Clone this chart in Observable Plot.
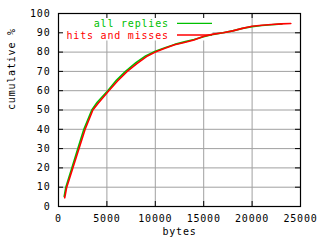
<!DOCTYPE html>
<html>
<head>
<meta charset="utf-8">
<script src="https://cdn.jsdelivr.net/npm/d3@7"></script>
<script src="https://cdn.jsdelivr.net/npm/@observablehq/plot@0.6"></script>
<style>
  html, body { margin: 0; padding: 0; background: white; }
  svg text { letter-spacing: 0.8px; }
</style>
</head>
<body>
<div id="chart"></div>
<script>
// Series: all replies (green)
const allBytes = [590, 760, 1380, 2000, 2620, 3440, 4000, 5090, 6000, 6920, 8000, 9000, 10000, 11000, 12000, 13000, 14000, 15000, 16000, 17000, 18000, 19000, 20000, 21000, 22000, 23100];
const allPct   = [5.2, 10, 20, 30, 40, 50, 54, 60, 65.5, 70, 74.5, 78, 80.5, 82.2, 84, 85.3, 86.5, 88, 89.2, 90, 91, 92.3, 93.2, 93.8, 94.2, 94.6];
// Series: hits and misses (red)
const hmBytes = [640, 850, 1480, 2120, 2750, 3550, 4100, 5200, 6100, 7100, 8100, 9200, 10000, 11000, 12000, 13000, 14000, 15000, 16000, 17000, 18000, 19000, 20000, 21000, 22000, 23000, 24000];
const hmPct   = [4.5, 10, 20, 30, 40, 50, 53.5, 60, 65, 70, 74, 78, 80, 82, 83.8, 85, 86.3, 88.2, 89.3, 90, 91, 92.3, 93.4, 93.9, 94.3, 94.6, 94.8];

const seriesNames = ["all replies", "hits and misses"];
const seriesColors = ["#00c000", "#ff0000"];

const xTicks = [0, 5000, 10000, 15000, 20000, 25000];
const yTicks = [0, 10, 20, 30, 40, 50, 60, 70, 80, 90, 100];
const xGrid = [5000, 10000, 15000, 20000];
const yGrid = [10, 20, 30, 40, 50, 60, 70, 80, 90];

const allData = allBytes.map((b, i) => ({bytes: b, pct: allPct[i]}));
const hmData = hmBytes.map((b, i) => ({bytes: b, pct: hmPct[i]}));

const font = "'DejaVu Sans Mono', 'Liberation Mono', monospace";
const fs = 10;

// key drawn as a custom mark (white box hides grid like gnuplot)
function keyMark(index, scales, values, dim) {
  const g = d3.create("svg:g").attr("font-family", font).attr("font-size", fs);
  const x0 = dim.marginLeft;
  const y0 = dim.marginTop;
  g.append("rect").attr("x", x0 + 1.5).attr("y", y0 + 1).attr("width", 153).attr("height", 26.5).attr("fill", "white");
  const rows = [10.3, 22];
  seriesNames.forEach((name, i) => {
    g.append("text")
      .attr("x", x0 + 110.8).attr("y", y0 + rows[i]).attr("dy", "0.35em")
      .attr("text-anchor", "end").attr("fill", seriesColors[i]).text(name);
    g.append("line")
      .attr("x1", x0 + 119).attr("x2", x0 + 154)
      .attr("y1", y0 + rows[i]).attr("y2", y0 + rows[i])
      .attr("stroke", seriesColors[i]).attr("stroke-width", 1.3);
  });
  return g.node();
}

const chart = Plot.plot({
  width: 320,
  height: 240,
  marginLeft: 58,
  marginRight: 20,
  marginTop: 13,
  marginBottom: 34,
  style: {fontFamily: font, fontSize: fs + "px", background: "white", color: "black", overflow: "visible"},
  x: {domain: [0, 25000], label: null},
  y: {domain: [0, 100], label: null},
  marks: [
    Plot.ruleX(xGrid, {stroke: "#a0a0a0", strokeWidth: 1}),
    Plot.ruleY(yGrid, {stroke: "#a0a0a0", strokeWidth: 1}),
    keyMark,
    // inward ticks: bottom/top/left/right
    Plot.ruleX(xGrid, {stroke: "black", insetTop: 188}),
    Plot.ruleX(xGrid, {stroke: "black", insetBottom: 188}),
    Plot.ruleY(yGrid, {stroke: "black", insetRight: 237}),
    Plot.ruleY(yGrid, {stroke: "black", insetLeft: 237}),
    Plot.line(allData, {x: "bytes", y: "pct", stroke: seriesColors[0], strokeWidth: 1.6}),
    Plot.line(hmData, {x: "bytes", y: "pct", stroke: seriesColors[1], strokeWidth: 1.6}),
    Plot.frame({stroke: "black", strokeWidth: 1.2}),
    Plot.axisX(xTicks, {tickSize: 0, tickPadding: 8, tickFormat: d => String(d), fontSize: fs}),
    Plot.axisY(yTicks, {tickSize: 0, tickPadding: 8, tickFormat: d => String(d), fontSize: fs}),
    Plot.text(["cumulative %"], {frameAnchor: "left", dx: -47, rotate: -90, fontSize: fs}),
    Plot.text(["bytes"], {frameAnchor: "bottom", dy: 28.5, fontSize: fs})
  ]
});
document.getElementById("chart").appendChild(chart);
</script>
</body>
</html>
